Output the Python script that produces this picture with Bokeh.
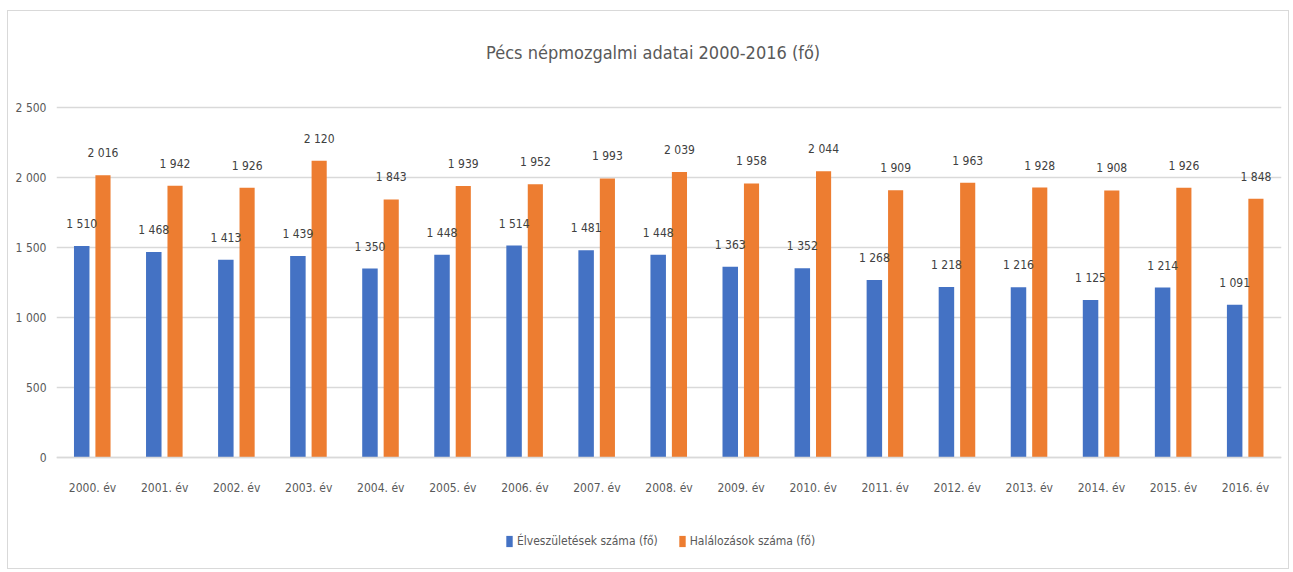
from bokeh.plotting import figure
from bokeh.models import ColumnDataSource, LabelSet, Label, Legend, LegendItem, FixedTicker, Range1d
from bokeh.core.properties import value
from bokeh.transform import dodge
from bokeh.embed import file_html
from bokeh.resources import INLINE

years = [f"{y}. év" for y in range(2000, 2017)]
births = [1510, 1468, 1413, 1439, 1350, 1448, 1514, 1481, 1448, 1363, 1352, 1268, 1218, 1216, 1125, 1214, 1091]
deaths = [2016, 1942, 1926, 2120, 1843, 1939, 1952, 1993, 2039, 1958, 2044, 1909, 1963, 1928, 1908, 1926, 1848]
y_ticks = [0, 500, 1000, 1500, 2000, 2500]

def hu(n):
    return f"{n:,}".replace(",", " ")

FONT = "'DejaVu Sans Condensed', 'Roboto Condensed', 'Open Sans'"
BLUE = "#4472C4"
ORANGE = "#ED7D31"
TXT = "#595959"

src = ColumnDataSource(dict(
    years=years, births=births, deaths=deaths,
    blab=[hu(v) for v in births], dlab=[hu(v) for v in deaths],
))

p = figure(x_range=years, y_range=Range1d(-807, 3000), width=1282, height=559,
           output_backend="svg", toolbar_location=None,
           min_border_left=48, min_border_right=9, min_border_top=26, min_border_bottom=0)
p.styles = {"border": "1px solid #d9d9d9", "margin-left": "7px", "margin-top": "10px"}
p.outline_line_color = None
p.background_fill_color = "white"

rb = p.vbar(x=dodge("years", -0.15, range=p.x_range), top="births", width=0.215,
            source=src, color=BLUE, line_color=None)
rd = p.vbar(x=dodge("years", 0.145, range=p.x_range), top="deaths", width=0.21,
            source=src, color=ORANGE, line_color=None)

lb = LabelSet(x=dodge("years", -0.15, range=p.x_range), y="births", text="blab", source=src,
              text_align="center", text_baseline="alphabetic", y_offset=18,
              text_font=value(FONT), text_font_size=value("12px"), text_color="#404040")
ld = LabelSet(x=dodge("years", 0.145, range=p.x_range), y="deaths", text="dlab", source=src,
              text_align="center", text_baseline="alphabetic", y_offset=18,
              text_font=value(FONT), text_font_size=value("12px"), text_color="#404040")
p.add_layout(lb)
p.add_layout(ld)

p.xgrid.grid_line_color = None
p.ygrid.grid_line_color = "#d9d9d9"
p.ygrid.grid_line_width = 1.5
p.yaxis.ticker = FixedTicker(ticks=y_ticks)
p.yaxis.major_label_overrides = {t: hu(t) for t in y_ticks}
p.yaxis.axis_line_color = None
p.yaxis.major_tick_line_color = None
p.yaxis.major_tick_out = 0
p.yaxis.minor_tick_line_color = None
p.yaxis.major_label_standoff = 10
p.yaxis.major_label_text_font = FONT
p.yaxis.major_label_text_font_size = "12px"
p.yaxis.major_label_text_color = TXT

p.xaxis.fixed_location = 0
p.xaxis.axis_line_color = "#d9d9d9"
p.xaxis.axis_line_width = 1.5
p.xaxis.major_tick_line_color = None
p.xaxis.major_tick_out = 0
p.xaxis.minor_tick_line_color = None
p.xaxis.major_label_standoff = 23
p.xaxis.major_label_text_font = FONT
p.xaxis.major_label_text_font_size = "12px"
p.xaxis.major_label_text_color = TXT

title = Label(x=8.28, y=2893, text="Pécs népmozgalmi adatai 2000-2016 (fő)",
              text_align="center", text_baseline="middle",
              text_font=FONT, text_font_size="18px", text_color=TXT)
p.add_layout(title)

legend = Legend(items=[LegendItem(label="Élveszületések száma (fő)", renderers=[rb]),
                       LegendItem(label="Halálozások száma (fő)", renderers=[rd])],
                orientation="horizontal", location=(449, 22),
                label_text_font=FONT, label_text_font_size="12px", label_text_color=TXT,
                glyph_width=8, glyph_height=14, spacing=20, label_standoff=4,
                label_height=14, border_line_color=None, background_fill_alpha=0,
                margin=0, padding=0)
p.add_layout(legend)

open("out.html", "w").write(file_html(p, INLINE))
